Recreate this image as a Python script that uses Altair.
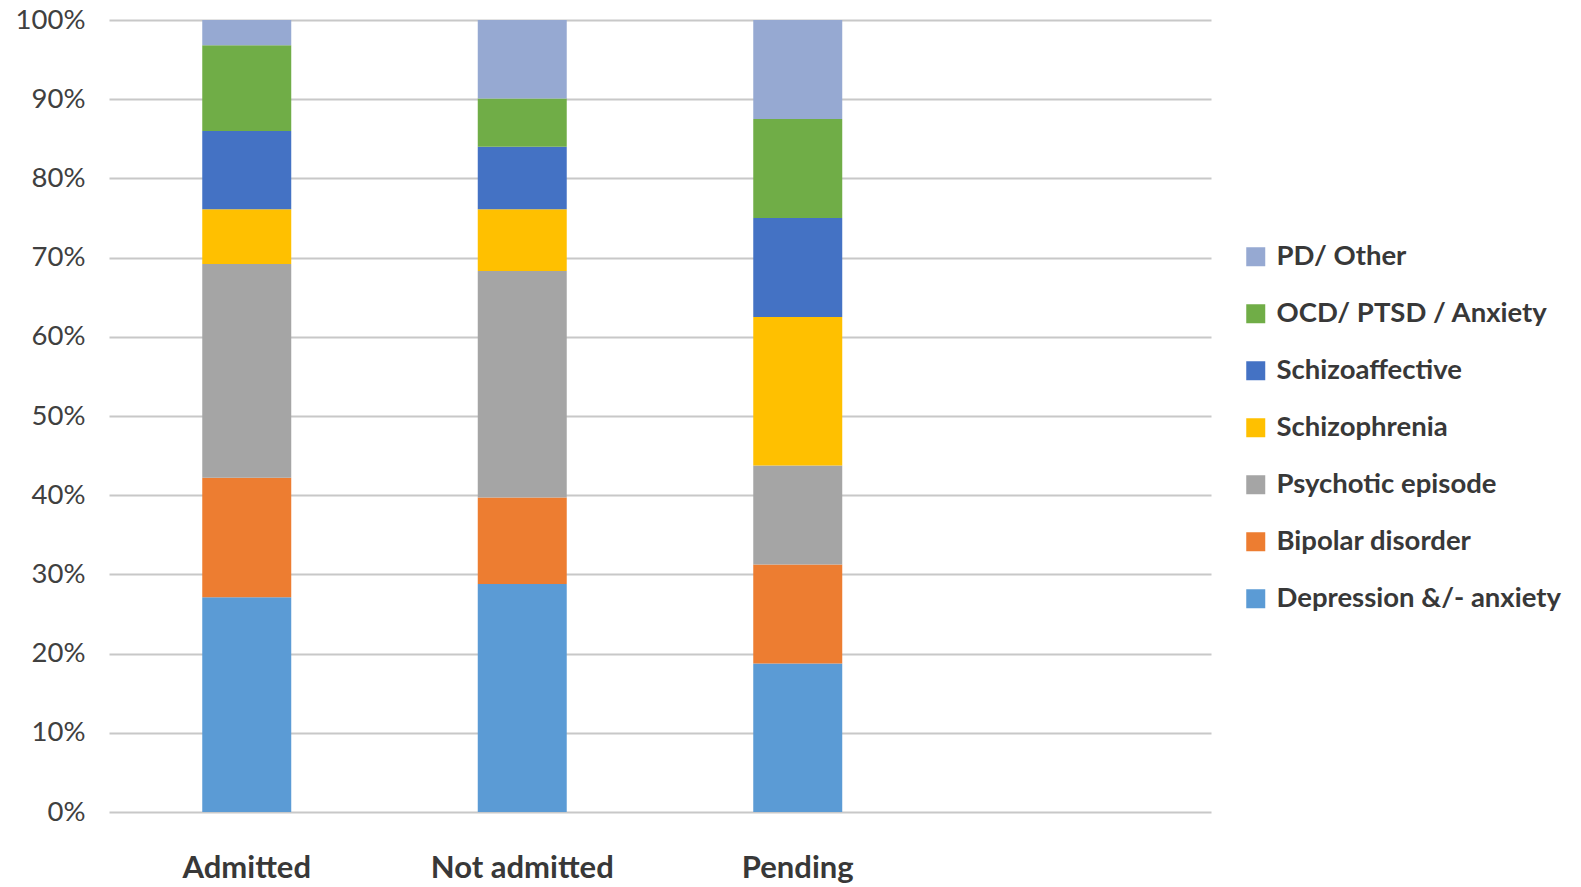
import altair as alt
import pandas as pd

groups = ["Admitted", "Not admitted", "Pending"]
axis_slots = ["Admitted", "Not admitted", "Pending", " "]

diagnoses = [
    "Depression &/- anxiety",
    "Bipolar disorder",
    "Psychotic episode",
    "Schizophrenia",
    "Schizoaffective",
    "OCD/ PTSD / Anxiety",
    "PD/ Other",
]
colors = ["#5B9BD5", "#ED7D31", "#A5A5A5", "#FFC000", "#4472C4", "#70AD47", "#96A9D2"]

admitted = [27.1, 15.1, 27.0, 6.9, 9.9, 10.8, 3.2]
not_admitted = [28.8, 10.9, 28.6, 7.8, 7.9, 6.1, 9.9]
pending = [18.75, 12.5, 12.5, 18.75, 12.5, 12.5, 12.5]

rows = []
for g, vals in zip(groups, [admitted, not_admitted, pending]):
    for i, (d, v) in enumerate(zip(diagnoses, vals)):
        rows.append({"group": g, "diagnosis": d, "value": v, "order": i})
df = pd.DataFrame(rows)

legend_domain = list(reversed(diagnoses))
legend_range = list(reversed(colors))

FONT = "Lato"

chart = (
    alt.Chart(df)
    .mark_bar()
    .encode(
        x=alt.X(
            "group:N",
            scale=alt.Scale(domain=axis_slots, paddingInner=0.677, paddingOuter=0.3385),
            axis=alt.Axis(
                title=None,
                labelAngle=0,
                domain=False,
                ticks=False,
                tickSize=0,
                labelPadding=41,
                labelFont=FONT,
                labelFontSize=31,
                labelFontWeight="bold",
                labelColor="#383838",
                labelLimit=400,
                grid=False,
            ),
        ),
        y=alt.Y(
            "value:Q",
            stack="normalize",
            scale=alt.Scale(domain=[0, 1]),
            axis=alt.Axis(
                title=None,
                format=".0%",
                values=[i / 10 for i in range(11)],
                domain=False,
                ticks=False,
                labelPadding=24,
                labelFont=FONT,
                labelFontSize=27.5,
                labelColor="#404040",
                grid=True,
                gridColor="#C8C8C8",
                gridWidth=2,
            ),
        ),
        color=alt.Color(
            "diagnosis:N",
            scale=alt.Scale(domain=legend_domain, range=legend_range),
            legend=alt.Legend(
                title=None,
                orient="none",
                legendX=1133,
                legendY=223,
                symbolType="square",
                symbolSize=361,
                symbolStrokeWidth=0,
                labelFont=FONT,
                labelFontSize=27.5,
                labelFontWeight="bold",
                labelColor="#383838",
                labelOffset=7,
                rowPadding=28,
                padding=0,
                labelLimit=400,
            ),
        ),
        order=alt.Order("order:Q", sort="ascending"),
    )
    .properties(
        width=1102,
        height=792,
        background="white",
        padding={"left": 101, "top": 12, "right": 362, "bottom": 75},
        autosize=alt.AutoSizeParams(type="none"),
    )
    .configure_view(stroke="transparent", strokeWidth=0)
)

chart.save("out.html", embed_options={"renderer": "svg", "actions": False})
